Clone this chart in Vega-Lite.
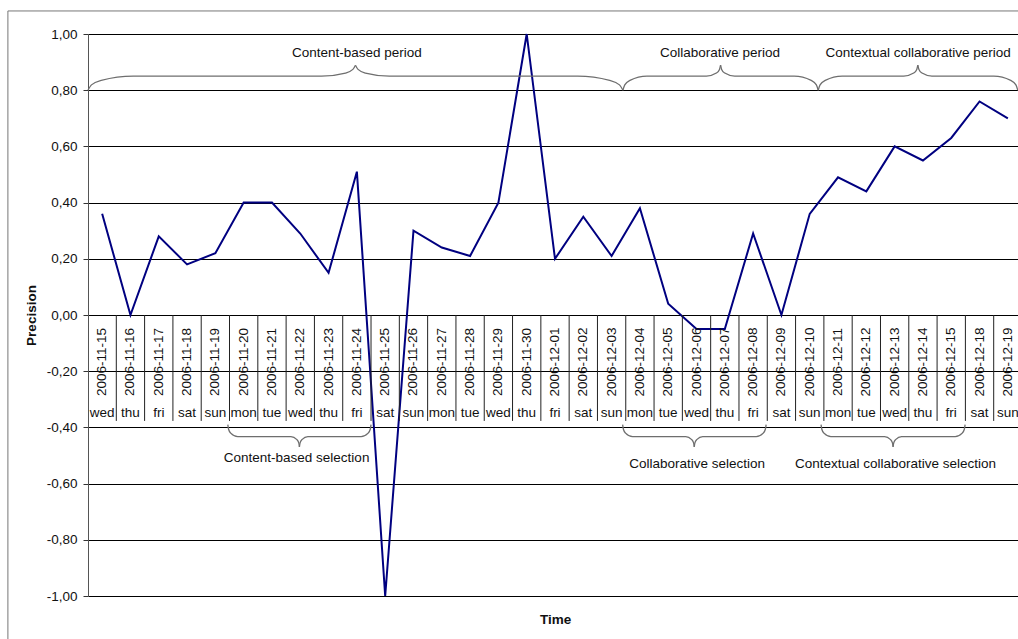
{
  "$schema": "https://vega.github.io/schema/vega-lite/v6.json",
  "autosize": "none",
  "padding": {"left": 88, "top": 34, "right": 0, "bottom": 43},
  "width": 934,
  "height": 562,
  "background": "white",
  "config": {
    "view": {"stroke": null},
    "font": "Liberation Sans",
    "text": {"font": "Liberation Sans", "fontSize": 13.5, "color": "#111"}
  },
  "datasets": {
    "days": [
      {"date": "2006-11-15", "day": "wed", "precision": 0.36},
      {"date": "2006-11-16", "day": "thu", "precision": 0.0},
      {"date": "2006-11-17", "day": "fri", "precision": 0.28},
      {"date": "2006-11-18", "day": "sat", "precision": 0.18},
      {"date": "2006-11-19", "day": "sun", "precision": 0.22},
      {"date": "2006-11-20", "day": "mon", "precision": 0.40},
      {"date": "2006-11-21", "day": "tue", "precision": 0.40},
      {"date": "2006-11-22", "day": "wed", "precision": 0.29},
      {"date": "2006-11-23", "day": "thu", "precision": 0.15},
      {"date": "2006-11-24", "day": "fri", "precision": 0.51},
      {"date": "2006-11-25", "day": "sat", "precision": -1.0},
      {"date": "2006-11-26", "day": "sun", "precision": 0.30},
      {"date": "2006-11-27", "day": "mon", "precision": 0.24},
      {"date": "2006-11-28", "day": "tue", "precision": 0.21},
      {"date": "2006-11-29", "day": "wed", "precision": 0.40},
      {"date": "2006-11-30", "day": "thu", "precision": 1.0},
      {"date": "2006-12-01", "day": "fri", "precision": 0.20},
      {"date": "2006-12-02", "day": "sat", "precision": 0.35},
      {"date": "2006-12-03", "day": "sun", "precision": 0.21},
      {"date": "2006-12-04", "day": "mon", "precision": 0.38},
      {"date": "2006-12-05", "day": "tue", "precision": 0.04},
      {"date": "2006-12-06", "day": "wed", "precision": -0.05},
      {"date": "2006-12-07", "day": "thu", "precision": -0.05},
      {"date": "2006-12-08", "day": "fri", "precision": 0.29},
      {"date": "2006-12-09", "day": "sat", "precision": 0.0},
      {"date": "2006-12-10", "day": "sun", "precision": 0.36},
      {"date": "2006-12-11", "day": "mon", "precision": 0.49},
      {"date": "2006-12-12", "day": "tue", "precision": 0.44},
      {"date": "2006-12-13", "day": "wed", "precision": 0.60},
      {"date": "2006-12-14", "day": "thu", "precision": 0.55},
      {"date": "2006-12-15", "day": "fri", "precision": 0.63},
      {"date": "2006-12-18", "day": "sat", "precision": 0.76},
      {"date": "2006-12-19", "day": "sun", "precision": 0.70}
    ],
    "braces": [
      {"part": "p1L", "bx": 0.5, "by": 0.8}, {"part": "p1L", "bx": 0.622, "by": 0.819}, {"part": "p1L", "bx": 0.969, "by": 0.835}, {"part": "p1L", "bx": 2.1, "by": 0.85},
      {"part": "p1L", "bx": 8.75, "by": 0.85}, {"part": "p1L", "bx": 9.598, "by": 0.861}, {"part": "p1L", "bx": 9.859, "by": 0.874}, {"part": "p1L", "bx": 9.95, "by": 0.889},
      {"part": "p1R", "bx": 9.95, "by": 0.889}, {"part": "p1R", "bx": 10.041, "by": 0.874}, {"part": "p1R", "bx": 10.302, "by": 0.861}, {"part": "p1R", "bx": 11.15, "by": 0.85},
      {"part": "p1R", "bx": 17.8, "by": 0.85}, {"part": "p1R", "bx": 18.931, "by": 0.835}, {"part": "p1R", "bx": 19.278, "by": 0.819}, {"part": "p1R", "bx": 19.4, "by": 0.8},
      {"part": "p2L", "bx": 19.4, "by": 0.8}, {"part": "p2L", "bx": 19.465, "by": 0.819}, {"part": "p2L", "bx": 19.649, "by": 0.835}, {"part": "p2L", "bx": 20.25, "by": 0.85},
      {"part": "p2L", "bx": 22.35, "by": 0.85}, {"part": "p2L", "bx": 22.703, "by": 0.861}, {"part": "p2L", "bx": 22.812, "by": 0.874}, {"part": "p2L", "bx": 22.85, "by": 0.889},
      {"part": "p2R", "bx": 22.85, "by": 0.889}, {"part": "p2R", "bx": 22.888, "by": 0.874}, {"part": "p2R", "bx": 22.997, "by": 0.861}, {"part": "p2R", "bx": 23.35, "by": 0.85},
      {"part": "p2R", "bx": 25.45, "by": 0.85}, {"part": "p2R", "bx": 26.051, "by": 0.835}, {"part": "p2R", "bx": 26.235, "by": 0.819}, {"part": "p2R", "bx": 26.3, "by": 0.8},
      {"part": "p3L", "bx": 26.3, "by": 0.8}, {"part": "p3L", "bx": 26.365, "by": 0.819}, {"part": "p3L", "bx": 26.549, "by": 0.835}, {"part": "p3L", "bx": 27.15, "by": 0.85},
      {"part": "p3L", "bx": 29.32, "by": 0.85}, {"part": "p3L", "bx": 29.673, "by": 0.861}, {"part": "p3L", "bx": 29.782, "by": 0.874}, {"part": "p3L", "bx": 29.82, "by": 0.889},
      {"part": "p3R", "bx": 29.82, "by": 0.889}, {"part": "p3R", "bx": 29.858, "by": 0.874}, {"part": "p3R", "bx": 29.967, "by": 0.861}, {"part": "p3R", "bx": 30.32, "by": 0.85},
      {"part": "p3R", "bx": 32.5, "by": 0.85}, {"part": "p3R", "bx": 33.101, "by": 0.835}, {"part": "p3R", "bx": 33.285, "by": 0.819}, {"part": "p3R", "bx": 33.35, "by": 0.8},
      {"part": "s1L", "bx": 5.44, "by": -0.39}, {"part": "s1L", "bx": 5.467, "by": -0.4065}, {"part": "s1L", "bx": 5.543, "by": -0.4204}, {"part": "s1L", "bx": 5.79, "by": -0.433},
      {"part": "s1L", "bx": 7.67, "by": -0.433}, {"part": "s1L", "bx": 7.882, "by": -0.4435}, {"part": "s1L", "bx": 7.947, "by": -0.4552}, {"part": "s1L", "bx": 7.97, "by": -0.469},
      {"part": "s1R", "bx": 7.97, "by": -0.469}, {"part": "s1R", "bx": 7.993, "by": -0.4552}, {"part": "s1R", "bx": 8.058, "by": -0.4435}, {"part": "s1R", "bx": 8.27, "by": -0.433},
      {"part": "s1R", "bx": 10.15, "by": -0.433}, {"part": "s1R", "bx": 10.397, "by": -0.4204}, {"part": "s1R", "bx": 10.473, "by": -0.4065}, {"part": "s1R", "bx": 10.5, "by": -0.39},
      {"part": "s2L", "bx": 19.39, "by": -0.39}, {"part": "s2L", "bx": 19.417, "by": -0.4065}, {"part": "s2L", "bx": 19.493, "by": -0.4204}, {"part": "s2L", "bx": 19.74, "by": -0.433},
      {"part": "s2L", "bx": 21.62, "by": -0.433}, {"part": "s2L", "bx": 21.832, "by": -0.4435}, {"part": "s2L", "bx": 21.897, "by": -0.4552}, {"part": "s2L", "bx": 21.92, "by": -0.469},
      {"part": "s2R", "bx": 21.92, "by": -0.469}, {"part": "s2R", "bx": 21.943, "by": -0.4552}, {"part": "s2R", "bx": 22.008, "by": -0.4435}, {"part": "s2R", "bx": 22.22, "by": -0.433},
      {"part": "s2R", "bx": 24.11, "by": -0.433}, {"part": "s2R", "bx": 24.357, "by": -0.4204}, {"part": "s2R", "bx": 24.433, "by": -0.4065}, {"part": "s2R", "bx": 24.46, "by": -0.39},
      {"part": "s3L", "bx": 26.4, "by": -0.39}, {"part": "s3L", "bx": 26.427, "by": -0.4065}, {"part": "s3L", "bx": 26.503, "by": -0.4204}, {"part": "s3L", "bx": 26.75, "by": -0.433},
      {"part": "s3L", "bx": 28.645, "by": -0.433}, {"part": "s3L", "bx": 28.857, "by": -0.4435}, {"part": "s3L", "bx": 28.922, "by": -0.4552}, {"part": "s3L", "bx": 28.945, "by": -0.469},
      {"part": "s3R", "bx": 28.945, "by": -0.469}, {"part": "s3R", "bx": 28.968, "by": -0.4552}, {"part": "s3R", "bx": 29.033, "by": -0.4435}, {"part": "s3R", "bx": 29.245, "by": -0.433},
      {"part": "s3R", "bx": 31.14, "by": -0.433}, {"part": "s3R", "bx": 31.387, "by": -0.4204}, {"part": "s3R", "bx": 31.463, "by": -0.4065}, {"part": "s3R", "bx": 31.49, "by": -0.39}
    ],
    "notes": [
      {"note": "Content-based period", "nx": 10.0, "ny": 0.932},
      {"note": "Collaborative period", "nx": 22.83, "ny": 0.932},
      {"note": "Contextual collaborative period", "nx": 29.83, "ny": 0.932},
      {"note": "Content-based selection", "nx": 7.87, "ny": -0.509},
      {"note": "Collaborative selection", "nx": 22.02, "ny": -0.53},
      {"note": "Contextual collaborative selection", "nx": 29.03, "ny": -0.53}
    ]
  },
  "layer": [
    {
      "data": {"name": "days"},
      "transform": [{"window": [{"op": "row_number", "as": "idx"}]}],
      "mark": {"type": "line", "color": "#000080", "strokeWidth": 2},
      "encoding": {
        "x": {
          "field": "idx", "type": "quantitative",
          "scale": {"domain": [0.5, 33.5], "nice": false, "zero": false},
          "axis": {
            "title": "Time", "labels": false, "ticks": false, "domain": false, "grid": false,
            "titleFont": "Liberation Sans", "titleFontSize": 13.5, "titleFontWeight": "bold",
            "titleColor": "#111", "titlePadding": 16
          }
        },
        "y": {
          "field": "precision", "type": "quantitative",
          "scale": {"domain": [-1, 1], "nice": false, "zero": false},
          "axis": {
            "title": "Precision",
            "values": [-1, -0.8, -0.6, -0.4, -0.2, 0, 0.2, 0.4, 0.6, 0.8, 1],
            "labelExpr": "(datum.value < 0 ? '-' : '') + replace(format(abs(datum.value), '.2f'), '.', ',')",
            "grid": true, "gridColor": "#000", "gridWidth": 1,
            "domainColor": "#555", "tickColor": "#333", "tickSize": 5,
            "labelPadding": 6, "labelFont": "Liberation Sans", "labelFontSize": 13.5, "labelColor": "#111",
            "titleFont": "Liberation Sans", "titleFontSize": 13.5, "titleFontWeight": "bold",
            "titleColor": "#111", "titlePadding": 8
          }
        }
      }
    },
    {
      "data": {"values": [{}]},
      "mark": {"type": "rule", "color": "#777", "strokeWidth": 1},
      "encoding": {
        "x": {"datum": -2.33, "type": "quantitative"},
        "y": {"datum": 1.082, "type": "quantitative"},
        "y2": {"datum": -1.3}
      }
    },
    {
      "data": {"values": [{}]},
      "mark": {"type": "rule", "color": "#777", "strokeWidth": 1},
      "encoding": {
        "x": {"datum": -2.33, "type": "quantitative"},
        "x2": {"datum": 34},
        "y": {"datum": 1.082, "type": "quantitative"}
      }
    },
    {
      "data": {"name": "days"},
      "transform": [
        {"window": [{"op": "row_number", "as": "idx"}]},
        {"filter": "datum.idx < 33"},
        {"calculate": "datum.idx + 0.5", "as": "edge"}
      ],
      "mark": {"type": "rule", "color": "#222", "strokeWidth": 1},
      "encoding": {
        "x": {"field": "edge", "type": "quantitative"},
        "y": {"datum": 0, "type": "quantitative"},
        "y2": {"datum": -0.377}
      }
    },
    {
      "data": {"name": "braces"},
      "mark": {"type": "line", "color": "#6e6e6e", "strokeWidth": 1.3, "interpolate": "monotone"},
      "encoding": {
        "x": {"field": "bx", "type": "quantitative"},
        "y": {"field": "by", "type": "quantitative"},
        "detail": {"field": "part"}
      }
    },
    {
      "data": {"name": "days"},
      "transform": [{"window": [{"op": "row_number", "as": "idx"}]}],
      "mark": {"type": "text", "angle": 270, "align": "center", "baseline": "middle"},
      "encoding": {
        "x": {"field": "idx", "type": "quantitative"},
        "y": {"datum": -0.167, "type": "quantitative"},
        "text": {"field": "date"}
      }
    },
    {
      "data": {"name": "days"},
      "transform": [{"window": [{"op": "row_number", "as": "idx"}]}],
      "mark": {"type": "text", "align": "center", "baseline": "middle"},
      "encoding": {
        "x": {"field": "idx", "type": "quantitative"},
        "y": {"datum": -0.349, "type": "quantitative"},
        "text": {"field": "day"}
      }
    },
    {
      "data": {"name": "notes"},
      "mark": {"type": "text", "align": "center", "baseline": "middle"},
      "encoding": {
        "x": {"field": "nx", "type": "quantitative"},
        "y": {"field": "ny", "type": "quantitative"},
        "text": {"field": "note"}
      }
    }
  ]
}
